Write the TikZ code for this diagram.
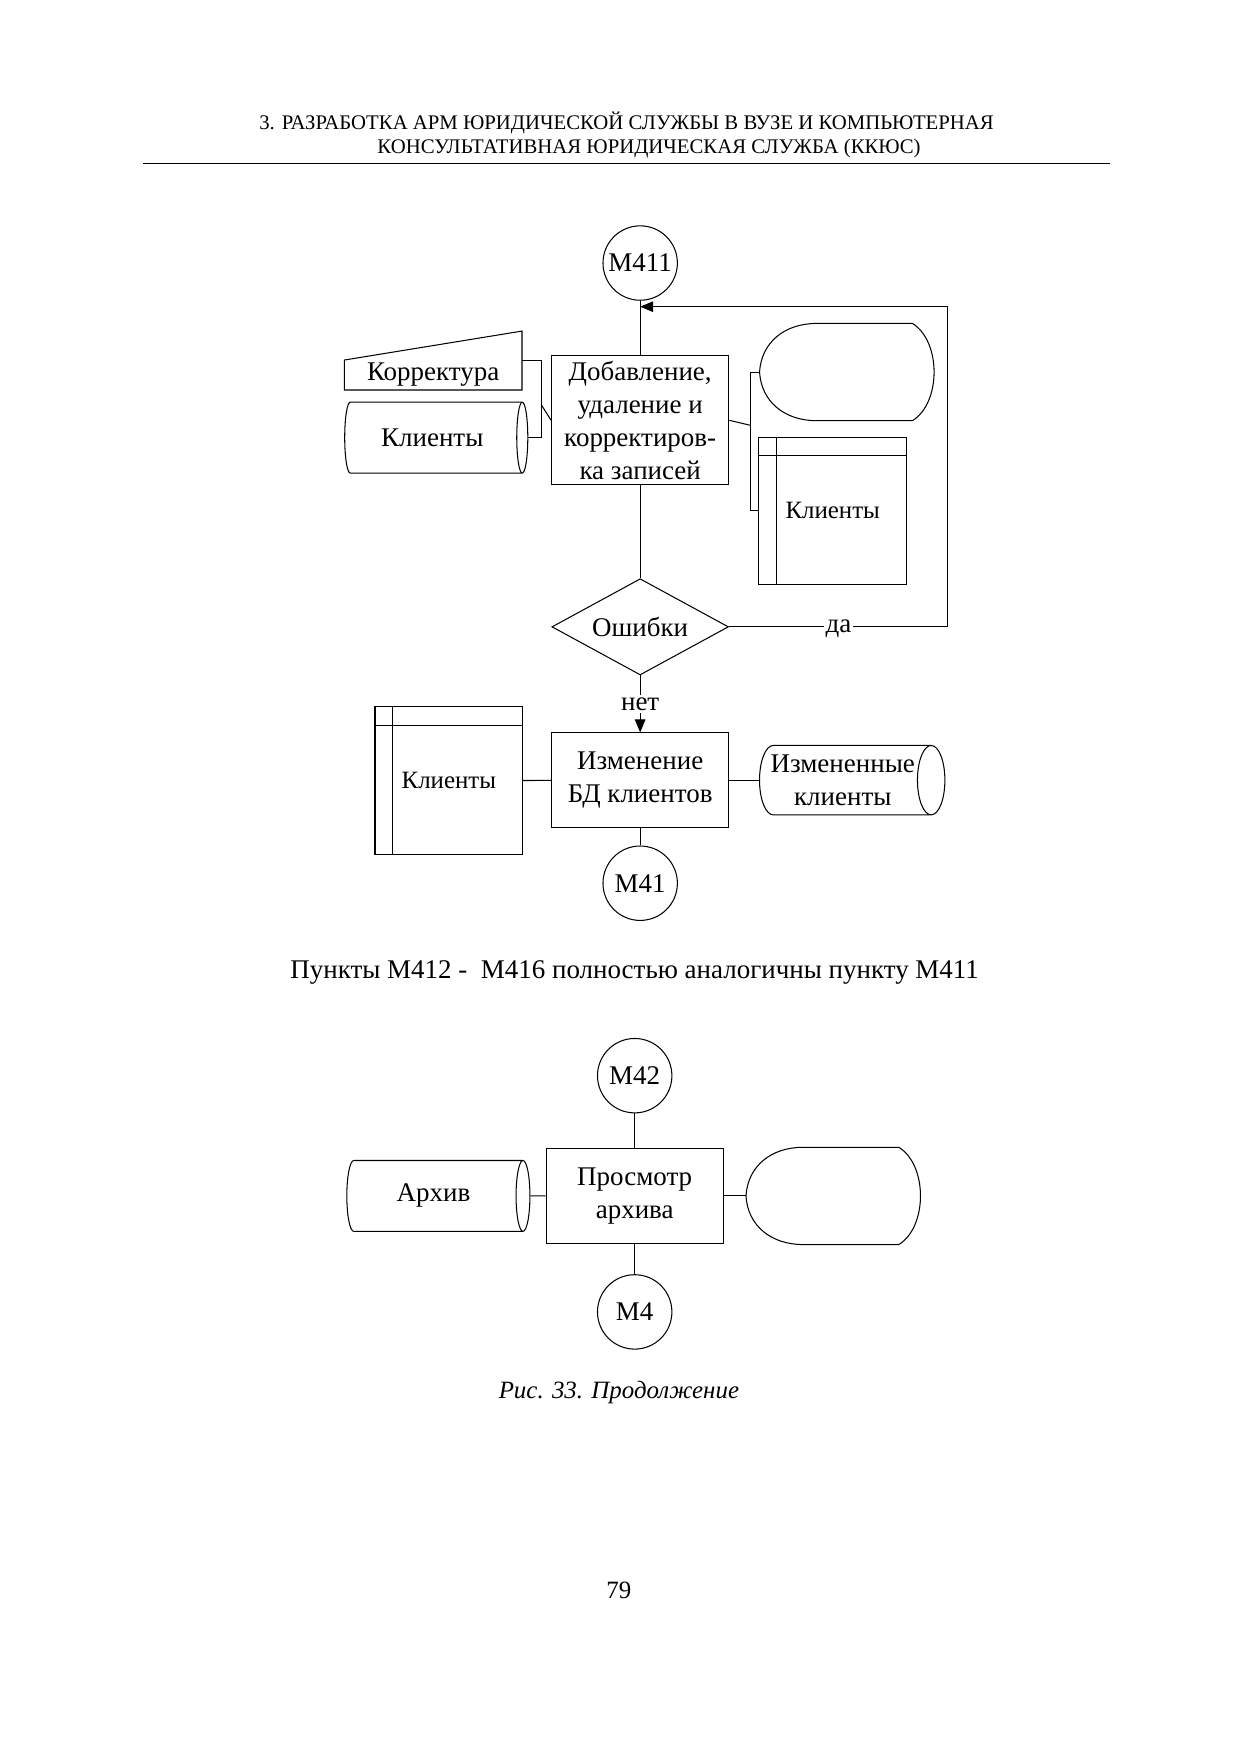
\documentclass[tikz,border=0pt]{standalone}
\usepackage{fontspec}
\setmainfont{Liberation Serif}
\usetikzlibrary{shapes.geometric,arrows.meta,calc}

\tikzset{
  procbox/.style={draw, minimum width=3cm, minimum height=1.6cm, align=center,
    inner sep=1pt, font=\fontsize{13}{15.8}\selectfont},
  conn/.style={circle, draw, minimum size=1.26cm, inner sep=0pt,
    font=\fontsize{13}{16}\selectfont},
  stored/.style={cylinder, draw, aspect=0.5, minimum height=3.1cm,
    minimum width=1.2cm, align=center, inner sep=1pt,
    font=\fontsize{13}{15.8}\selectfont},
  manin/.style={minimum width=2.99cm, minimum height=0.49cm, inner sep=0pt,
    font=\fontsize{13}{16}\selectfont},
  dispbox/.style={minimum width=2.96cm, minimum height=1.63cm, inner sep=0pt},
  intstore/.style={draw, minimum width=2.5cm, minimum height=2.5cm,
    font=\fontsize{12}{14}\selectfont,
    path picture={
      \draw ([xshift=0.3cm]path picture bounding box.north west) --
            ([xshift=0.3cm]path picture bounding box.south west);
      \draw ([yshift=-0.32cm]path picture bounding box.north west) --
            ([yshift=-0.32cm]path picture bounding box.north east);
    }},
  decide/.style={diamond, draw, minimum width=2.99cm, minimum height=1.63cm,
    aspect=1.84, inner sep=0pt, font=\fontsize{13}{16}\selectfont},
  lbl/.style={fill=white, inner sep=1pt, font=\fontsize{13}{16}\selectfont},
  arr/.style={-{Triangle[length=2.2mm,width=1.8mm]}},
}

\begin{document}
\begin{tikzpicture}[line width=0.5pt]
  \useasboundingbox (0,0) rectangle (21,-29.7);

  % page header
  \node[font=\fontsize{10}{12}\selectfont] (hd1) at (10.61,-2.085)
    {3. РАЗРАБОТКА АРМ ЮРИДИЧЕСКОЙ СЛУЖБЫ В ВУЗЕ И КОМПЬЮТЕРНАЯ};
  \node[font=\fontsize{10}{12}\selectfont] (hd2) at (10.99,-2.52)
    {КОНСУЛЬТАТИВНАЯ ЮРИДИЧЕСКАЯ СЛУЖБА (ККЮС)};
  \draw (2.426,-2.767) -- (18.80,-2.767);

  % M411
  \node[conn] (m411) at (10.84,-4.454) {М411};
  \node[procbox, minimum height=2.18cm] (add) at (10.84,-7.117)
    {Добавление,\\удаление и\\корректиров-\\ка записей};
  \node[manin] (kor) at (7.335,-6.35) {Корректура};
  \draw (kor.north west) -- (kor.south west) -- (kor.south east)
    -- ($(kor.north east)+(0,0.49)$) -- cycle;
  \node[stored] (kl1) at (7.32,-7.41) {Клиенты};
  \node[dispbox] (scr1) at (14.35,-6.30) {};
  \node[intstore] (st1) at (14.10,-8.65) {Клиенты};
  \node[decide] (err) at (10.84,-10.614) {Ошибки};
  \coordinate (lbr) at (9.17,-6.86);
  \coordinate (rbr) at (12.70,-7.20);
  \coordinate (fbtop) at (16.05,-5.193);

  \draw (m411) -- (add);
  \draw (kor.north east) -| (lbr) |- (kl1.east);
  \draw (lbr) -- (add.west);
  \draw (scr1.west) -| (rbr) |- (st1.west);
  \draw (add.east) -- (rbr);
  \draw (add) -- (err);
  \draw[arr] (err.east) -- node[lbl, yshift=-1pt] (yes) {да} (err.east -| fbtop)
    -- (fbtop) -- (fbtop -| add.north);

  \node[procbox] (chg) at (10.84,-13.21) {Изменение\\БД клиентов};
  \node[intstore] (st2) at (7.60,-13.22) {Клиенты};
  \node[stored, minimum width=1.175cm] (kl2) at (14.27,-13.21)
    {Измененные\\клиенты};
  \node[conn] (m41) at (10.84,-14.955) {М41};
  \draw[arr] (err.south) -- node[lbl] (no) {нет} (chg.north);
  \draw (st2) -- (chg);
  \draw (chg) -- (kl2);
  \draw (chg) -- (m41);

  \node[font=\fontsize{13}{16}\selectfont] (note) at (10.747,-16.47)
    {Пункты М412 -\ \ М416 полностью аналогичны пункту М411};

  % M42
  \node[conn] (m42) at (10.747,-18.214) {М42};
  \node[procbox] (view) at (10.747,-20.25) {Просмотр\\архива};
  \node[stored] (arch) at (7.34,-20.25) {Архив};
  \node[dispbox] (scr2) at (14.12,-20.25) {};
  \node[conn] (m4) at (10.747,-22.214) {М4};
  \draw (m42) -- (view);
  \draw (arch) -- (view);
  \draw (view) -- (scr2.west);
  \draw (view) -- (m4);

  % display outlines
  \foreach \d in {scr1,scr2} {
    \draw (\d.west) .. controls ($(\d.west)+(0.03,0.5)$)
        and ($(\d.north west)+(0.42,0)$) .. ($(\d.north west)+(0.97,0)$)
      -- ($(\d.north east)+(-0.39,0)$)
      .. controls ($(\d.north east)+(0.1,-0.3)$)
        and ($(\d.south east)+(0.1,0.3)$) .. ($(\d.south east)+(-0.39,0)$)
      -- ($(\d.south west)+(0.97,0)$)
      .. controls ($(\d.south west)+(0.42,0)$)
        and ($(\d.west)+(0.03,-0.5)$) .. (\d.west);
  }

  \node[font=\fontsize{12}{14}\selectfont\itshape] (cap) at (10.48,-23.58)
    {Рис. 33. Продолжение};
  \node[font=\fontsize{12}{14}\selectfont] (pg) at (10.48,-26.93) {79};
\end{tikzpicture}
\end{document}
